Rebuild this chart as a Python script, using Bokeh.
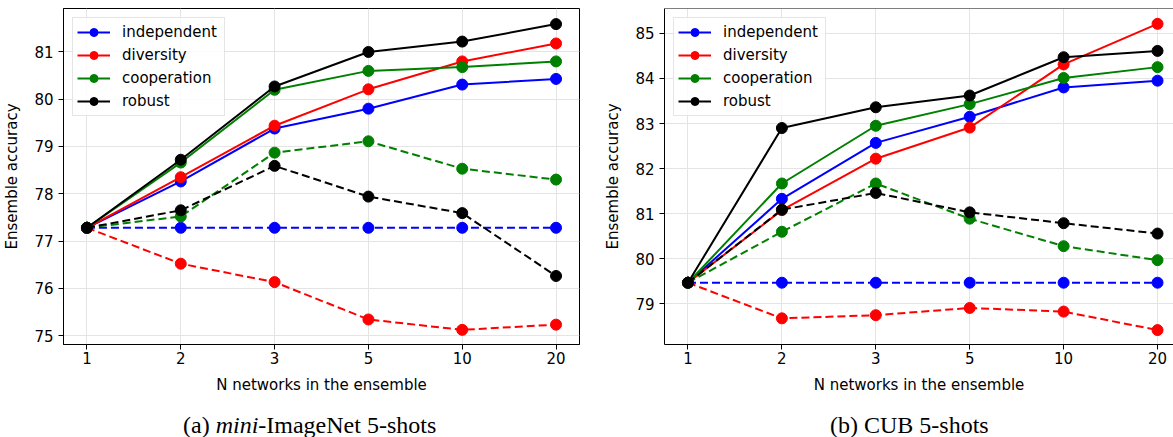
from bokeh.plotting import figure
from bokeh.models import FixedTicker, Legend, LegendItem, Span, Range1d, Div
from bokeh.layouts import row, column
from bokeh.embed import file_html
from bokeh.resources import INLINE

# ---------------- data ----------------
n_labels = ["1", "2", "3", "5", "10", "20"]
method_names = ["independent", "diversity", "cooperation", "robust"]

# (a) mini-ImageNet 5-shots
mini_independent = [77.28, 78.26, 79.38, 79.80, 80.31, 80.43]
mini_diversity = [77.28, 78.35, 79.44, 80.21, 80.80, 81.18]
mini_cooperation = [77.28, 78.66, 80.20, 80.60, 80.68, 80.80]
mini_robust = [77.28, 78.72, 80.27, 81.00, 81.22, 81.59]
mini_independent_dashed = [77.28, 77.28, 77.28, 77.28, 77.28, 77.28]
mini_diversity_dashed = [77.28, 76.52, 76.13, 75.34, 75.12, 75.23]
mini_cooperation_dashed = [77.28, 77.52, 78.87, 79.11, 78.53, 78.30]
mini_robust_dashed = [77.28, 77.65, 78.59, 77.94, 77.59, 76.26]

# (b) CUB 5-shots
cub_independent = [79.47, 81.33, 82.57, 83.15, 83.80, 83.95]
cub_diversity = [79.47, 81.08, 82.22, 82.91, 84.31, 85.21]
cub_cooperation = [79.47, 81.67, 82.95, 83.43, 84.01, 84.25]
cub_robust = [79.47, 82.90, 83.36, 83.62, 84.47, 84.61]
cub_independent_dashed = [79.47, 79.47, 79.47, 79.47, 79.47, 79.47]
cub_diversity_dashed = [79.47, 78.68, 78.75, 78.91, 78.83, 78.42]
cub_cooperation_dashed = [79.47, 80.60, 81.67, 80.89, 80.28, 79.97]
cub_robust_dashed = [79.47, 81.09, 81.46, 81.03, 80.79, 80.56]

mini_yticks = [75, 76, 77, 78, 79, 80, 81]
cub_yticks = [79, 80, 81, 82, 83, 84, 85]

caption_a = ("(a) ", "mini", "-ImageNet 5-shots")
caption_b = "(b) CUB 5-shots"

# ---------------- style ----------------
COLORS = ["#0000ff", "#ff0000", "#008000", "#000000"]
FONT = "DejaVu Sans"
xs = list(range(len(n_labels)))


def build(solid, dashed, yticks, x_end, y_start, y_end, width, border_left,
          border_right, show_outline):
    p = figure(width=width, height=413,
               x_range=Range1d(-0.25, x_end), y_range=Range1d(y_start, y_end),
               output_backend="svg", toolbar_location=None,
               min_border_left=border_left, min_border_right=border_right,
               min_border_top=8, min_border_bottom=69)
    p.background_fill_color = "white"
    p.border_fill_color = "white"
    p.outline_line_color = "black" if show_outline else None
    p.outline_line_width = 1

    p.xaxis.ticker = FixedTicker(ticks=xs)
    p.xaxis.major_label_overrides = {i: lab for i, lab in enumerate(n_labels)}
    p.yaxis.ticker = FixedTicker(ticks=yticks)
    p.xgrid.grid_line_color = "#e4e4e4"
    p.ygrid.grid_line_color = "#e4e4e4"
    p.xgrid.grid_line_width = 1
    p.ygrid.grid_line_width = 1

    for ax in (p.xaxis[0], p.yaxis[0]):
        ax.major_label_text_font = FONT
        ax.major_label_text_font_size = "15px"
        ax.major_label_text_color = "black"
        ax.axis_label_text_font = FONT
        ax.axis_label_text_font_size = "15px"
        ax.axis_label_text_font_style = "normal"
        ax.axis_label_text_color = "black"
        ax.major_tick_in = 0
        ax.major_tick_out = 5
        ax.major_tick_line_color = "black"
        ax.minor_tick_line_color = None
        ax.axis_line_color = "black"
        ax.axis_line_width = 1
    p.xaxis.axis_label = "N networks in the ensemble"
    p.yaxis.axis_label = "Ensemble accuracy"
    p.xaxis.major_label_standoff = 2
    p.xaxis.axis_label_standoff = 9
    p.yaxis.major_label_standoff = 5
    p.yaxis.axis_label_standoff = 10

    items = []
    for name, color, vals in zip(method_names, COLORS, solid):
        ln = p.line(xs, vals, line_color=color, line_width=2)
        sc = p.scatter(xs, vals, size=11, fill_color=color, line_color=color)
        items.append(LegendItem(label=name, renderers=[ln, sc]))
    for color, vals in zip(COLORS, dashed):
        p.line(xs, vals, line_color=color, line_width=2, line_dash="8 4")
        p.scatter(xs, vals, size=11, fill_color=color, line_color=color)

    legend = Legend(items=items, location="top_left", margin=9, padding=4,
                    spacing=3, glyph_width=33, glyph_height=20,
                    label_height=20, label_width=98, label_standoff=12,
                    label_text_font=FONT, label_text_font_size="15px",
                    label_text_color="black",
                    border_line_color="#cccccc", border_line_width=1,
                    background_fill_color="white", background_fill_alpha=0.85)
    p.add_layout(legend)

    if not show_outline:
        p.add_layout(Span(location=y_end, dimension="width",
                          line_color="black", line_width=1))
    return p


p1 = build([mini_independent, mini_diversity, mini_cooperation, mini_robust],
           [mini_independent_dashed, mini_diversity_dashed,
            mini_cooperation_dashed, mini_robust_dashed],
           mini_yticks, 5.25, 74.81, 81.92, 590, 63, 11, True)
p2 = build([cub_independent, cub_diversity, cub_cooperation, cub_robust],
           [cub_independent_dashed, cub_diversity_dashed,
            cub_cooperation_dashed, cub_robust_dashed],
           cub_yticks, 5.17, 78.10, 85.55, 583, 74, 0, False)

cap_html = (
    '<div style="position:relative;width:1173px;height:24px;'
    "font-family:'Liberation Serif',serif;font-size:24px;line-height:24px;"
    'color:#000;white-space:nowrap">'
    '<span style="position:absolute;left:183px;top:0">'
    f'{caption_a[0]}<i>{caption_a[1]}</i>{caption_a[2]}</span>'
    '<span style="position:absolute;left:830px;top:0">'
    f'{caption_b}</span></div>'
)
captions = Div(text=cap_html, width=1173, height=24, margin=0)

layout = column(row(p1, p2), captions)
open("out.html", "w").write(file_html(layout, INLINE))
